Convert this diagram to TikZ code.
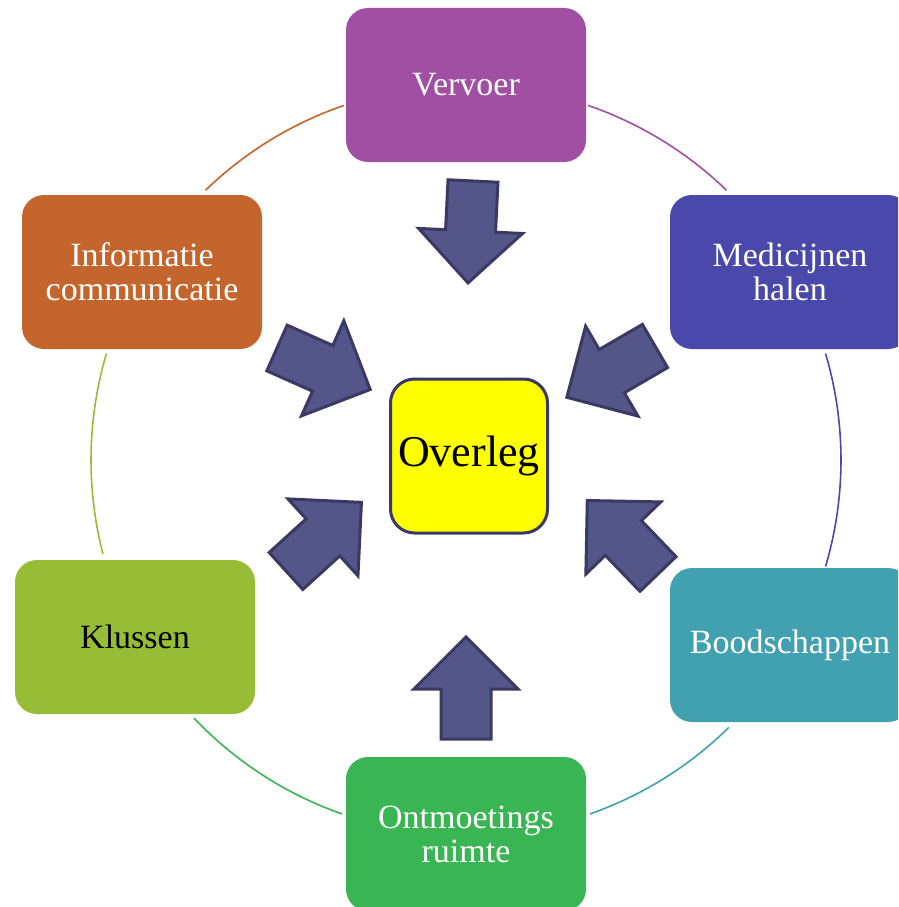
\documentclass[tikz,border=0pt]{standalone}
\usepackage{fontspec}
\setmainfont{Liberation Serif}
\definecolor{cV}{HTML}{A14FA3}
\definecolor{cM}{HTML}{4A48AA}
\definecolor{cB}{HTML}{42A1B1}
\definecolor{cO}{HTML}{3AB554}
\definecolor{cK}{HTML}{97BD36}
\definecolor{cI}{HTML}{C4652E}
\definecolor{cY}{HTML}{FFFF00}
\definecolor{arrfill}{HTML}{545589}
\definecolor{arrdraw}{HTML}{393963}
\newcommand{\blkarrow}[3]{\draw[blk, shift={(#1,#2)}, rotate=#3] (0,-25) -- (50,-25) -- (50,-52) -- (102,0) -- (50,52) -- (50,25) -- (0,25) -- cycle;}
\begin{document}
\begin{tikzpicture}[x=1pt,y=-1pt,
  box/.style={rectangle, rounded corners=22pt, minimum width=240pt, minimum height=154pt, text=white, align=center, font=\fontsize{34}{34}\selectfont, inner sep=0pt},
  ring/.style={line width=1.6pt},
  blk/.style={fill=arrfill, draw=arrdraw, line width=3pt, line join=miter}]
\useasboundingbox (0,0) rectangle (898,907);
\clip (0,0) rectangle (898,907);
\fill[white] (0,0) rectangle (898,907);
\coordinate (O) at (466,460);
% ring arcs
\draw[ring, draw=cV] (O) ++(-71:375) arc[start angle=-71, end angle=-46, radius=375];
\draw[ring, draw=cM] (O) ++(-16.5:375) arc[start angle=-16.5, end angle=16.5, radius=375];
\draw[ring, draw=cB] (O) ++(45.5:375) arc[start angle=45.5, end angle=70.7, radius=375];
\draw[ring, draw=cO] (O) ++(109.3:375) arc[start angle=109.3, end angle=136.5, radius=375];
\draw[ring, draw=cK] (O) ++(165.5:375) arc[start angle=165.5, end angle=196.5, radius=375];
\draw[ring, draw=cI] (O) ++(226:375) arc[start angle=226, end angle=251, radius=375];
% boxes
\node[box, fill=cV] (vervoer) at (466,85) {Vervoer};
\node[box, fill=cM] (medic) at (790,272) {Medicijnen\\halen};
\node[box, fill=cB] (bood) at (790,645) {Boodschappen};
\node[box, fill=cO] (ontm) at (466,834) {Ontmoetings\\ruimte};
\node[box, fill=cK, text=black] (kluss) at (135,637) {Klussen};
\node[box, fill=cI] (info) at (142,272) {Informatie\\communicatie};
% centre
\node[rectangle, rounded corners=24pt, fill=cY, draw=arrdraw, line width=3pt, minimum width=157pt, minimum height=154pt, inner sep=0pt, font=\fontsize{44}{44}\selectfont] (overleg) at (469,456) {Overleg};
% block arrows
\blkarrow{473}{181}{-92.8}
\blkarrow{466}{739}{90}
\blkarrow{277}{348}{-24}
\blkarrow{655}{346}{-149.8}
\blkarrow{286}{571}{42.3}
\blkarrow{658}{574}{133.9}
\end{tikzpicture}
\end{document}
